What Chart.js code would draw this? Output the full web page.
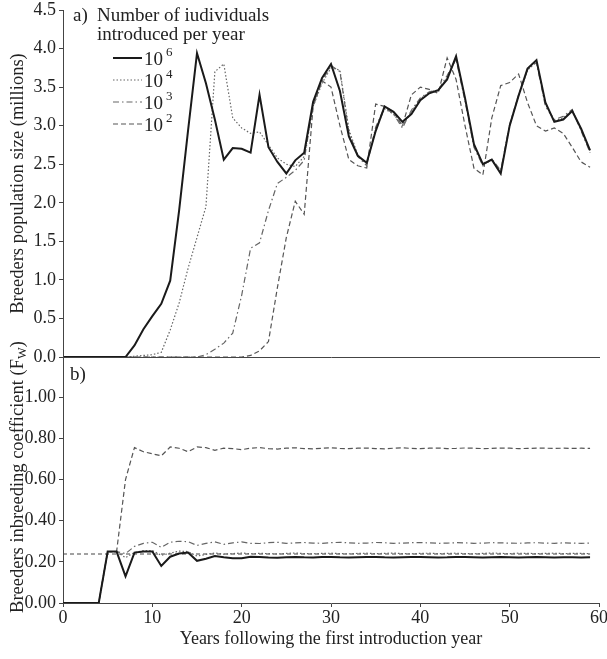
<!DOCTYPE html>
<html>
<head>
<meta charset="utf-8">
<script src="https://cdn.jsdelivr.net/npm/chart.js@4/dist/chart.umd.min.js"></script>
<style>
    body { margin: 0; background: #fff; }
    #wrap { position: relative; width: 607px; height: 659px; }
    canvas { position: absolute; left: 0; }
    #popChart { top: 0; }
    #fwChart { top: 340px; }
</style>
</head>
<body>
<div id="wrap">
    <canvas id="popChart" width="607" height="362"></canvas>
    <canvas id="fwChart" width="607" height="319"></canvas>
</div>
<script>
// Years 0..59
const years = Array.from({ length: 60 }, (_, i) => i);

// a) breeders population size (millions), one array per introduction size
const pop6 = [0, 0, 0, 0, 0, 0, 0, 0, 0.15, 0.36,
    0.53, 0.69, 0.99, 1.90, 2.94, 3.94, 3.55, 3.08, 2.56, 2.71,
    2.70, 2.65, 3.40, 2.72, 2.53, 2.38, 2.55, 2.65, 3.31, 3.62,
    3.80, 3.45, 2.86, 2.61, 2.52, 2.93, 3.25, 3.18, 3.05, 3.15,
    3.33, 3.42, 3.46, 3.60, 3.90, 3.36, 2.76, 2.50, 2.56, 2.38,
    3.00, 3.39, 3.74, 3.85, 3.30, 3.05, 3.08, 3.19, 2.96, 2.68];
const pop4 = [0, 0, 0, 0, 0, 0, 0, 0, 0.01, 0.02,
    0.03, 0.06, 0.35, 0.70, 1.15, 1.55, 1.95, 3.70, 3.80, 3.10,
    2.97, 2.90, 2.92, 2.75, 2.58, 2.50, 2.47, 2.60, 3.25, 3.55,
    3.75, 3.72, 2.95, 2.62, 2.50, 2.95, 3.22, 3.15, 3.00, 3.18,
    3.35, 3.43, 3.45, 3.62, 3.88, 3.35, 2.74, 2.50, 2.55, 2.40,
    3.00, 3.38, 3.72, 3.83, 3.28, 3.06, 3.10, 3.20, 2.95, 2.66];
const pop3 = [0, 0, 0, 0, 0, 0, 0, 0, 0, 0,
    0, 0, 0, 0, 0, 0, 0.03, 0.10, 0.18, 0.31,
    0.80, 1.41, 1.48, 1.90, 2.25, 2.33, 2.42, 2.55, 3.28, 3.58,
    3.78, 3.70, 2.92, 2.60, 2.48, 2.98, 3.24, 3.15, 2.97, 3.20,
    3.36, 3.44, 3.46, 3.65, 3.86, 3.32, 2.72, 2.48, 2.57, 2.42,
    3.02, 3.40, 3.73, 3.82, 3.25, 3.08, 3.12, 3.21, 2.93, 2.65];
const pop2 = [0, 0, 0, 0, 0, 0, 0, 0, 0, 0,
    0, 0, 0, 0, 0, 0, 0, 0, 0, 0,
    0, 0.02, 0.08, 0.20, 0.90, 1.55, 2.02, 1.85, 3.25, 3.58,
    3.50, 3.00, 2.56, 2.48, 2.45, 3.28, 3.25, 3.18, 3.00, 3.40,
    3.50, 3.47, 3.42, 3.88, 3.60, 3.00, 2.45, 2.36, 3.10, 3.52,
    3.56, 3.67, 3.30, 3.00, 2.93, 2.97, 2.90, 2.72, 2.53, 2.46];

// b) breeders inbreeding coefficient (Fw)
const fw6 = [0, 0, 0, 0, 0, 0.25, 0.25, 0.13, 0.245, 0.25,
    0.25, 0.18, 0.225, 0.24, 0.245, 0.205, 0.215, 0.228, 0.222, 0.218,
    0.217, 0.225, 0.223, 0.221, 0.22, 0.222, 0.224, 0.222, 0.221, 0.223,
    0.224, 0.222, 0.221, 0.222, 0.223, 0.224, 0.222, 0.221, 0.222, 0.223,
    0.223, 0.222, 0.221, 0.222, 0.224, 0.223, 0.222, 0.221, 0.222, 0.223,
    0.222, 0.221, 0.222, 0.223, 0.222, 0.221, 0.222, 0.222, 0.221, 0.222];
const fw4 = [0, 0, 0, 0, 0, 0.25, 0.25, 0.22, 0.245, 0.255,
    0.255, 0.232, 0.242, 0.252, 0.25, 0.228, 0.236, 0.243, 0.237, 0.24,
    0.243, 0.239, 0.241, 0.24, 0.238, 0.241, 0.243, 0.24, 0.239, 0.241,
    0.242, 0.24, 0.239, 0.241, 0.242, 0.24, 0.241, 0.243, 0.24, 0.239,
    0.241, 0.242, 0.24, 0.241, 0.242, 0.24, 0.239, 0.241, 0.243, 0.241,
    0.24, 0.242, 0.241, 0.24, 0.241, 0.242, 0.24, 0.241, 0.241, 0.24];
const fw3 = [0, 0, 0, 0, 0, 0.25, 0.25, 0.24, 0.275, 0.29,
    0.295, 0.27, 0.295, 0.30, 0.298, 0.28, 0.29, 0.297, 0.285, 0.292,
    0.297, 0.29, 0.289, 0.293, 0.295, 0.29, 0.292, 0.294, 0.291, 0.29,
    0.293, 0.295, 0.292, 0.29, 0.291, 0.294, 0.293, 0.29, 0.291, 0.293,
    0.294, 0.292, 0.29, 0.291, 0.293, 0.292, 0.29, 0.291, 0.293, 0.292,
    0.291, 0.29, 0.292, 0.293, 0.291, 0.29, 0.292, 0.291, 0.29, 0.291];
const fw2 = [0, 0, 0, 0, 0, 0.25, 0.25, 0.60, 0.755, 0.735,
    0.725, 0.715, 0.758, 0.752, 0.735, 0.758, 0.755, 0.742, 0.752, 0.75,
    0.745, 0.752, 0.755, 0.75, 0.748, 0.752, 0.754, 0.75, 0.749, 0.752,
    0.754, 0.751, 0.75, 0.752, 0.753, 0.75, 0.749, 0.752, 0.754, 0.751,
    0.75, 0.752, 0.753, 0.75, 0.751, 0.753, 0.752, 0.75, 0.751, 0.753,
    0.752, 0.75, 0.751, 0.752, 0.752, 0.751, 0.752, 0.751, 0.752, 0.751];
// horizontal reference line in panel b
const refYears = [0, 59];
const refFw = [0.238, 0.238];

const popTicks = [0, 0.5, 1, 1.5, 2, 2.5, 3, 3.5, 4, 4.5];
const fwTicks = [0, 0.2, 0.4, 0.6, 0.8, 1.0];
const yearTicks = [0, 10, 20, 30, 40, 50, 60];

const legendLabels = ['6', '4', '3', '2'];

const serif = '"Liberation Serif", "Times New Roman", serif';
const textColor = '#222';
const axisColor = '#444';
Chart.defaults.font.family = serif;
Chart.defaults.font.size = 18;
Chart.defaults.color = textColor;

// line styles for the four scenarios
const styles = [
    { color: '#1a1a1a', width: 2, dash: [] },
    { color: '#666', width: 1.2, dash: [1.5, 2] },
    { color: '#666', width: 1.2, dash: [6, 3, 1.5, 3] },
    { color: '#555', width: 1.2, dash: [5, 3] }
];

function toPoints(xs, ys) {
    return xs.map((x, i) => ({ x: x, y: ys[i] }));
}

function lineSet(values, s, yAxis) {
    return {
        data: toPoints(years, values),
        borderColor: s.color,
        borderWidth: s.width,
        borderDash: s.dash,
        yAxisID: yAxis,
        fill: false
    };
}

// legend and panel label for panel a
const popLegend = {
    id: 'popLegend',
    afterDraw(chart) {
        const ctx = chart.ctx;
        ctx.save();
        ctx.fillStyle = textColor;
        ctx.textBaseline = 'middle';
        ctx.font = '19px ' + serif;
        ctx.fillText('a)', 73, 16);
        ctx.fillText('Number of iudividuals', 97, 16);
        ctx.fillText('introduced per year', 97, 35);
        legendLabels.forEach((p, i) => {
            const y = 58 + i * 22;
            const s = styles[i];
            ctx.strokeStyle = s.color;
            ctx.lineWidth = s.width;
            ctx.setLineDash(s.dash);
            ctx.beginPath();
            ctx.moveTo(113, y);
            ctx.lineTo(142, y);
            ctx.stroke();
            ctx.font = '19px ' + serif;
            ctx.fillText('10', 144, y + 2);
            const w = ctx.measureText('10').width;
            ctx.font = '13px ' + serif;
            ctx.fillText(p, 144 + w + 3, y - 5);
        });
        ctx.restore();
    }
};

// panel label and y title (with subscript) for panel b
const fwLabels = {
    id: 'fwLabels',
    afterDraw(chart) {
        const ctx = chart.ctx;
        const top = chart.canvas.offsetTop;
        ctx.save();
        ctx.fillStyle = textColor;
        ctx.textBaseline = 'middle';
        ctx.font = '19px ' + serif;
        ctx.fillText('b)', 70, 375 - top);

        const main = 'Breeders inbreeding coefficient (F';
        ctx.font = '18.5px ' + serif;
        const w1 = ctx.measureText(main).width;
        const w3 = ctx.measureText(')').width;
        ctx.font = '12.5px ' + serif;
        const w2 = ctx.measureText('W').width;
        const total = w1 + w2 + w3;
        ctx.translate(18, 477 - top);
        ctx.rotate(-Math.PI / 2);
        let x = -total / 2;
        ctx.font = '18.5px ' + serif;
        ctx.fillText(main, x, 0);
        x += w1;
        ctx.font = '12.5px ' + serif;
        ctx.fillText('W', x, 5);
        x += w2;
        ctx.font = '18.5px ' + serif;
        ctx.fillText(')', x, 0);
        ctx.restore();
    }
};

function yScale(min, max, ticks, digits, title) {
    return {
        type: 'linear',
        min: min,
        max: max,
        afterBuildTicks: s => { s.ticks = ticks.map(v => ({ value: v })); },
        ticks: {
            callback: v => v.toFixed(digits),
            color: textColor,
            padding: 3
        },
        grid: { drawOnChartArea: false, tickLength: 4, color: axisColor },
        border: { color: axisColor, width: 1 },
        title: title ? {
            display: true,
            text: title,
            color: textColor,
            font: { size: 18.5 },
            padding: { top: 7, bottom: 0 }
        } : { display: false },
        afterFit: s => {
            s.width = 63;
            s.paddingTop = 0;
            s.paddingBottom = 0;
        }
    };
}

const baseOptions = {
    responsive: false,
    animation: false,
    plugins: { legend: { display: false }, tooltip: { enabled: false } },
    elements: { point: { radius: 0 }, line: { tension: 0 } }
};

// Panel a
new Chart(document.getElementById('popChart'), {
    type: 'line',
    data: {
        datasets: [
            lineSet(pop6, styles[0], 'y'),
            lineSet(pop4, styles[1], 'y'),
            lineSet(pop3, styles[2], 'y'),
            lineSet(pop2, styles[3], 'y')
        ]
    },
    options: Object.assign({}, baseOptions, {
        layout: { padding: { top: 10, right: 8, left: 0, bottom: 0 } },
        scales: {
            x: {
                type: 'linear',
                min: 0,
                max: 60,
                ticks: { display: false },
                grid: { drawOnChartArea: false, drawTicks: false, color: axisColor },
                border: { color: axisColor, width: 1 },
                afterFit: s => {
                    s.height = 5;
                    s.paddingLeft = 0;
                    s.paddingRight = 0;
                }
            },
            y: yScale(0, 4.5, popTicks, 1, 'Breeders population size (millions)')
        }
    }),
    plugins: [popLegend]
});

// Panel b
new Chart(document.getElementById('fwChart'), {
    type: 'line',
    data: {
        datasets: [
            lineSet(fw6, styles[0], 'y'),
            lineSet(fw4, styles[1], 'y'),
            lineSet(fw3, styles[2], 'y'),
            lineSet(fw2, styles[3], 'y'),
            {
                data: toPoints(refYears, refFw),
                borderColor: '#444',
                borderWidth: 1.2,
                borderDash: [4, 3],
                yAxisID: 'y',
                fill: false
            }
        ]
    },
    options: Object.assign({}, baseOptions, {
        layout: { padding: { top: 16, right: 8, left: 0, bottom: 0 } },
        scales: {
            x: {
                type: 'linear',
                min: 0,
                max: 60,
                afterBuildTicks: s => { s.ticks = yearTicks.map(v => ({ value: v })); },
                ticks: { color: textColor, padding: 0, maxRotation: 0 },
                grid: { drawOnChartArea: false, tickLength: 4, color: axisColor },
                border: { color: axisColor, width: 1 },
                title: {
                    display: true,
                    text: 'Years following the first introduction year',
                    color: textColor,
                    padding: { top: 0, bottom: 9 }
                },
                afterFit: s => {
                    s.height = 56;
                    s.paddingLeft = 0;
                    s.paddingRight = 0;
                }
            },
            y: yScale(0, 1.2, fwTicks, 2, null)
        }
    }),
    plugins: [fwLabels]
});
</script>
</body>
</html>
